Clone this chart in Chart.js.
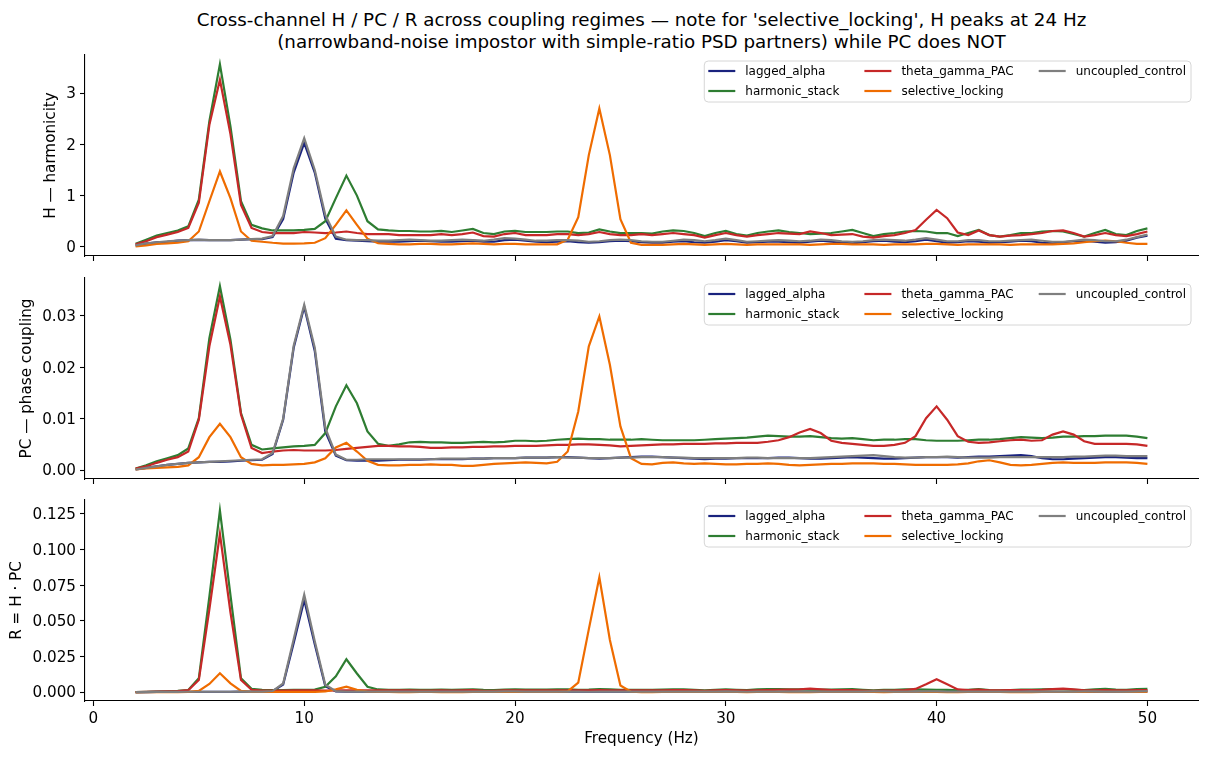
<!DOCTYPE html>
<html>
<head>
<meta charset="utf-8">
<script src="https://cdn.jsdelivr.net/npm/chart.js@4.4.1/dist/chart.umd.min.js"></script>
<style>
  body { margin: 0; background: #fff; width: 1208px; height: 759px; overflow: hidden; position: relative; font-family: "DejaVu Sans", sans-serif; }
  #title { position: absolute; left: 85px; width: 1113px; top: 9px; text-align: center; font-size: 18.3px; line-height: 22px; color: #000; }
  .panel { position: absolute; left: 0; width: 1208px; }
</style>
</head>
<body>
<div id="title">Cross-channel H / PC / R across coupling regimes — note for 'selective_locking', H peaks at 24 Hz<br>(narrowband-noise impostor with simple-ratio PSD partners) while PC does NOT</div>
<div class="panel" style="top:50px;height:236px"><canvas id="chartH"></canvas></div>
<div class="panel" style="top:272px;height:236px"><canvas id="chartPC"></canvas></div>
<div class="panel" style="top:494px;height:265px"><canvas id="chartR"></canvas></div>
<script>
// frequency grid (Hz)
const FREQS = [
  2, 2.5, 3, 3.5, 4, 4.5, 5, 5.5, 6, 6.5,
  7, 7.5, 8, 8.5, 9, 9.5, 10, 10.5, 11, 11.5,
  12, 12.5, 13, 13.5, 14, 14.5, 15, 15.5, 16, 16.5,
  17, 17.5, 18, 18.5, 19, 19.5, 20, 20.5, 21, 21.5,
  22, 22.5, 23, 23.5, 24, 24.5, 25, 25.5, 26, 26.5,
  27, 27.5, 28, 28.5, 29, 29.5, 30, 30.5, 31, 31.5,
  32, 32.5, 33, 33.5, 34, 34.5, 35, 35.5, 36, 36.5,
  37, 37.5, 38, 38.5, 39, 39.5, 40, 40.5, 41, 41.5,
  42, 42.5, 43, 43.5, 44, 44.5, 45, 45.5, 46, 46.5,
  47, 47.5, 48, 48.5, 49, 49.5, 50
];

const SERIES = ['lagged_alpha', 'harmonic_stack', 'theta_gamma_PAC', 'selective_locking', 'uncoupled_control'];
const COLORS = ['#1a237e', '#2e7d32', '#c62828', '#ef6c00', '#7f7f7f'];

const X_TICKS = [0, 10, 20, 30, 40, 50];
const H_TICKS = [0, 1, 2, 3];
const PC_TICKS = [0, 0.01, 0.02, 0.03];
const R_TICKS = [0, 0.025, 0.05, 0.075, 0.1, 0.125];

// --- H (harmonicity) ---
const H_LAGGED = [
  0.03, 0.065, 0.09, 0.10, 0.12, 0.13, 0.135, 0.13, 0.13, 0.13,
  0.14, 0.15, 0.15, 0.19, 0.54, 1.45, 2.03, 1.45, 0.55, 0.16,
  0.13, 0.12, 0.11, 0.10, 0.10, 0.10, 0.11, 0.12, 0.11, 0.10,
  0.10, 0.11, 0.12, 0.10, 0.10, 0.13, 0.14, 0.12, 0.10, 0.09,
  0.10, 0.11, 0.09, 0.08, 0.09, 0.11, 0.12, 0.11, 0.09, 0.08,
  0.08, 0.10, 0.11, 0.09, 0.08, 0.10, 0.13, 0.11, 0.08, 0.09,
  0.10, 0.10, 0.09, 0.08, 0.10, 0.12, 0.10, 0.08, 0.07, 0.09,
  0.11, 0.12, 0.10, 0.09, 0.11, 0.14, 0.11, 0.08, 0.09, 0.11,
  0.10, 0.08, 0.09, 0.10, 0.12, 0.11, 0.08, 0.07, 0.09, 0.11,
  0.12, 0.10, 0.08, 0.09, 0.12, 0.18, 0.22
];
const H_HARMONIC = [
  0.06, 0.14, 0.22, 0.27, 0.32, 0.40, 0.92, 2.45, 3.56, 2.35,
  0.89, 0.43, 0.36, 0.32, 0.32, 0.32, 0.33, 0.35, 0.50, 0.95,
  1.39, 1.00, 0.50, 0.34, 0.32, 0.31, 0.31, 0.30, 0.30, 0.31,
  0.29, 0.32, 0.35, 0.27, 0.25, 0.30, 0.31, 0.29, 0.29, 0.29,
  0.30, 0.30, 0.27, 0.28, 0.34, 0.30, 0.27, 0.27, 0.27, 0.26,
  0.30, 0.32, 0.31, 0.27, 0.21, 0.27, 0.31, 0.25, 0.22, 0.27,
  0.30, 0.32, 0.29, 0.27, 0.25, 0.26, 0.27, 0.30, 0.33, 0.27,
  0.21, 0.25, 0.27, 0.30, 0.31, 0.30, 0.27, 0.27, 0.21, 0.27,
  0.33, 0.23, 0.20, 0.23, 0.27, 0.27, 0.30, 0.31, 0.30, 0.25,
  0.20, 0.27, 0.33, 0.25, 0.23, 0.31, 0.36
];
const H_THETA = [
  0.05, 0.11, 0.19, 0.24, 0.29, 0.37, 0.86, 2.38, 3.26, 2.20,
  0.82, 0.37, 0.29, 0.27, 0.27, 0.27, 0.29, 0.28, 0.27, 0.28,
  0.30, 0.27, 0.25, 0.25, 0.25, 0.23, 0.23, 0.23, 0.23, 0.25,
  0.23, 0.25, 0.28, 0.21, 0.20, 0.25, 0.27, 0.23, 0.23, 0.23,
  0.25, 0.25, 0.23, 0.25, 0.29, 0.25, 0.23, 0.23, 0.25, 0.23,
  0.25, 0.27, 0.25, 0.23, 0.18, 0.23, 0.27, 0.23, 0.20, 0.23,
  0.25, 0.27, 0.26, 0.25, 0.30, 0.27, 0.23, 0.24, 0.25, 0.20,
  0.18, 0.21, 0.23, 0.27, 0.33, 0.53, 0.72, 0.56, 0.28, 0.23,
  0.32, 0.23, 0.20, 0.22, 0.23, 0.25, 0.27, 0.31, 0.32, 0.27,
  0.20, 0.23, 0.27, 0.23, 0.21, 0.25, 0.30
];
const H_SELECTIVE = [
  0.01, 0.03, 0.06, 0.07, 0.08, 0.11, 0.30, 0.89, 1.47, 0.95,
  0.30, 0.12, 0.10, 0.08, 0.065, 0.065, 0.07, 0.08, 0.17, 0.43,
  0.71, 0.43, 0.16, 0.07, 0.06, 0.05, 0.05, 0.06, 0.06, 0.05,
  0.05, 0.06, 0.07, 0.06, 0.05, 0.06, 0.06, 0.05, 0.05, 0.05,
  0.05, 0.14, 0.58, 1.79, 2.70, 1.79, 0.54, 0.08, 0.04, 0.04,
  0.04, 0.05, 0.06, 0.05, 0.04, 0.05, 0.06, 0.05, 0.04, 0.05,
  0.05, 0.05, 0.05, 0.05, 0.04, 0.05, 0.06, 0.06, 0.05, 0.05,
  0.05, 0.04, 0.05, 0.05, 0.05, 0.06, 0.06, 0.05, 0.04, 0.05,
  0.05, 0.05, 0.05, 0.04, 0.05, 0.05, 0.05, 0.05, 0.06, 0.07,
  0.09, 0.11, 0.12, 0.11, 0.08, 0.06, 0.06
];
const H_UNCOUPLED = [
  0.03, 0.07, 0.09, 0.11, 0.12, 0.13, 0.14, 0.13, 0.13, 0.13,
  0.14, 0.15, 0.16, 0.21, 0.60, 1.53, 2.12, 1.50, 0.62, 0.20,
  0.14, 0.13, 0.13, 0.12, 0.12, 0.13, 0.14, 0.13, 0.12, 0.12,
  0.13, 0.14, 0.13, 0.12, 0.14, 0.17, 0.16, 0.14, 0.12, 0.12,
  0.13, 0.13, 0.12, 0.10, 0.11, 0.13, 0.14, 0.13, 0.11, 0.10,
  0.10, 0.12, 0.14, 0.13, 0.11, 0.13, 0.16, 0.13, 0.10, 0.11,
  0.12, 0.13, 0.12, 0.11, 0.12, 0.14, 0.13, 0.11, 0.10, 0.11,
  0.13, 0.14, 0.13, 0.12, 0.14, 0.17, 0.14, 0.11, 0.11, 0.13,
  0.13, 0.11, 0.11, 0.12, 0.13, 0.14, 0.12, 0.10, 0.10, 0.12,
  0.14, 0.13, 0.11, 0.11, 0.14, 0.19, 0.24
];

// --- PC (phase coupling) ---
const PC_LAGGED = [
  0.0001, 0.0004, 0.0007, 0.0010, 0.0012, 0.0014, 0.0015, 0.0016, 0.0016, 0.0017,
  0.0018, 0.0019, 0.0020, 0.0031, 0.0098, 0.0238, 0.0318, 0.0232, 0.0075, 0.0028,
  0.0019, 0.0018, 0.0018, 0.0018, 0.0019, 0.0020, 0.0020, 0.0020, 0.0021, 0.0021,
  0.0021, 0.0021, 0.0022, 0.0022, 0.0023, 0.0023, 0.0023, 0.0024, 0.0024, 0.0024,
  0.0025, 0.0025, 0.0024, 0.0023, 0.0022, 0.0023, 0.0024, 0.0025, 0.0026, 0.0026,
  0.0025, 0.0024, 0.0023, 0.0022, 0.0021, 0.0022, 0.0022, 0.0023, 0.0023, 0.0023,
  0.0023, 0.0024, 0.0024, 0.0023, 0.0022, 0.0022, 0.0023, 0.0024, 0.0025, 0.0024,
  0.0023, 0.0022, 0.0022, 0.0023, 0.0024, 0.0025, 0.0025, 0.0025, 0.0024, 0.0025,
  0.0026, 0.0026, 0.0027, 0.0028, 0.0029, 0.0027, 0.0023, 0.0021, 0.0021, 0.0022,
  0.0023, 0.0024, 0.0025, 0.0025, 0.0024, 0.0023, 0.0023
];
const PC_HARMONIC = [
  0.0003, 0.0009, 0.0017, 0.0023, 0.0029, 0.0042, 0.0101, 0.0257, 0.0358, 0.0254,
  0.0111, 0.0049, 0.0040, 0.0042, 0.0044, 0.0046, 0.0047, 0.0049, 0.0072, 0.0124,
  0.0165, 0.0130, 0.0075, 0.0051, 0.0047, 0.0050, 0.0054, 0.0055, 0.0054, 0.0054,
  0.0053, 0.0053, 0.0054, 0.0055, 0.0054, 0.0055, 0.0057, 0.0057, 0.0056, 0.0057,
  0.0059, 0.0060, 0.0061, 0.0060, 0.0060, 0.0059, 0.0059, 0.0059, 0.0060, 0.0059,
  0.0058, 0.0058, 0.0058, 0.0058, 0.0059, 0.0060, 0.0061, 0.0062, 0.0063, 0.0065,
  0.0067, 0.0066, 0.0065, 0.0065, 0.0066, 0.0064, 0.0062, 0.0061, 0.0062, 0.0060,
  0.0058, 0.0059, 0.0059, 0.0060, 0.0060, 0.0058, 0.0057, 0.0057, 0.0057, 0.0058,
  0.0059, 0.0059, 0.0060, 0.0062, 0.0064, 0.0063, 0.0062, 0.0063, 0.0065, 0.0065,
  0.0066, 0.0066, 0.0067, 0.0067, 0.0067, 0.0065, 0.0062
];
const PC_THETA = [
  0.0003, 0.0007, 0.0014, 0.0020, 0.0025, 0.0036, 0.0098, 0.0241, 0.0338, 0.0244,
  0.0108, 0.0043, 0.0033, 0.0036, 0.0038, 0.0039, 0.0038, 0.0038, 0.0038, 0.0039,
  0.0041, 0.0043, 0.0045, 0.0047, 0.0047, 0.0046, 0.0046, 0.0045, 0.0043, 0.0043,
  0.0044, 0.0044, 0.0045, 0.0045, 0.0046, 0.0046, 0.0047, 0.0047, 0.0047, 0.0048,
  0.0049, 0.0049, 0.0050, 0.0050, 0.0049, 0.0048, 0.0046, 0.0047, 0.0048, 0.0049,
  0.0050, 0.0050, 0.0051, 0.0051, 0.0051, 0.0052, 0.0052, 0.0053, 0.0053, 0.0053,
  0.0055, 0.0058, 0.0064, 0.0073, 0.0080, 0.0072, 0.0057, 0.0053, 0.0051, 0.0049,
  0.0047, 0.0047, 0.0049, 0.0053, 0.0066, 0.0101, 0.0124, 0.0098, 0.0066, 0.0055,
  0.0053, 0.0054, 0.0056, 0.0058, 0.0059, 0.0057, 0.0058, 0.0069, 0.0075, 0.0069,
  0.0056, 0.0051, 0.0051, 0.0051, 0.0051, 0.0050, 0.0047
];
const PC_SELECTIVE = [
  0.0001, 0.0003, 0.0004, 0.0005, 0.0006, 0.0009, 0.0025, 0.0064, 0.0090, 0.0064,
  0.0025, 0.0012, 0.0009, 0.0010, 0.0010, 0.0011, 0.0012, 0.0015, 0.0023, 0.0044,
  0.0053, 0.0036, 0.0018, 0.0010, 0.0009, 0.0009, 0.0010, 0.0010, 0.0011, 0.0010,
  0.0010, 0.0008, 0.0008, 0.0010, 0.0012, 0.0013, 0.0014, 0.0015, 0.0014, 0.0013,
  0.0016, 0.0036, 0.0114, 0.0241, 0.0299, 0.0205, 0.0085, 0.0023, 0.0012, 0.0011,
  0.0014, 0.0015, 0.0013, 0.0012, 0.0013, 0.0012, 0.0011, 0.0011, 0.0012, 0.0012,
  0.0013, 0.0012, 0.0010, 0.0009, 0.0010, 0.0011, 0.0012, 0.0012, 0.0013, 0.0013,
  0.0013, 0.0012, 0.0012, 0.0011, 0.0010, 0.0010, 0.0010, 0.0010, 0.0011, 0.0013,
  0.0017, 0.0019, 0.0015, 0.0010, 0.0009, 0.0010, 0.0012, 0.0014, 0.0015, 0.0014,
  0.0014, 0.0014, 0.0015, 0.0015, 0.0015, 0.0014, 0.0012
];
const PC_UNCOUPLED = [
  0.0001, 0.0004, 0.0007, 0.0010, 0.0012, 0.0014, 0.0015, 0.0016, 0.0017, 0.0018,
  0.0019, 0.0020, 0.0021, 0.0033, 0.0100, 0.0242, 0.0322, 0.0238, 0.0082, 0.0030,
  0.0020, 0.0020, 0.0021, 0.0021, 0.0021, 0.0021, 0.0021, 0.0021, 0.0021, 0.0022,
  0.0022, 0.0022, 0.0022, 0.0022, 0.0023, 0.0023, 0.0023, 0.0024, 0.0024, 0.0024,
  0.0025, 0.0024, 0.0024, 0.0023, 0.0023, 0.0023, 0.0024, 0.0024, 0.0025, 0.0025,
  0.0025, 0.0024, 0.0024, 0.0023, 0.0023, 0.0023, 0.0023, 0.0023, 0.0024, 0.0024,
  0.0023, 0.0023, 0.0023, 0.0023, 0.0023, 0.0024, 0.0025, 0.0026, 0.0027, 0.0028,
  0.0029, 0.0027, 0.0025, 0.0024, 0.0024, 0.0025, 0.0025, 0.0026, 0.0025, 0.0024,
  0.0024, 0.0024, 0.0025, 0.0025, 0.0025, 0.0025, 0.0025, 0.0025, 0.0025, 0.0026,
  0.0026, 0.0027, 0.0028, 0.0028, 0.0027, 0.0027, 0.0027
];

// --- R = H * PC ---
const R_LAGGED = [
  0.0000, 0.0000, 0.0001, 0.0001, 0.0001, 0.0002, 0.0002, 0.0002, 0.0002, 0.0002,
  0.0003, 0.0003, 0.0003, 0.0006, 0.0053, 0.0345, 0.0646, 0.0336, 0.0041, 0.0004,
  0.0002, 0.0002, 0.0002, 0.0002, 0.0002, 0.0002, 0.0002, 0.0002, 0.0002, 0.0002,
  0.0002, 0.0002, 0.0003, 0.0002, 0.0002, 0.0003, 0.0003, 0.0003, 0.0002, 0.0002,
  0.0003, 0.0003, 0.0002, 0.0002, 0.0002, 0.0003, 0.0003, 0.0003, 0.0002, 0.0002,
  0.0002, 0.0002, 0.0003, 0.0002, 0.0002, 0.0002, 0.0003, 0.0003, 0.0002, 0.0002,
  0.0002, 0.0002, 0.0002, 0.0002, 0.0002, 0.0003, 0.0002, 0.0002, 0.0002, 0.0002,
  0.0003, 0.0003, 0.0002, 0.0002, 0.0003, 0.0003, 0.0003, 0.0002, 0.0002, 0.0003,
  0.0003, 0.0002, 0.0002, 0.0003, 0.0003, 0.0003, 0.0002, 0.0002, 0.0002, 0.0002,
  0.0003, 0.0002, 0.0002, 0.0002, 0.0003, 0.0004, 0.0005
];
const R_HARMONIC = [
  0.0000, 0.0001, 0.0003, 0.0005, 0.0008, 0.0014, 0.0096, 0.0670, 0.1275, 0.0680,
  0.0096, 0.0023, 0.0015, 0.0014, 0.0014, 0.0015, 0.0016, 0.0017, 0.0037, 0.0110,
  0.0230, 0.0130, 0.0037, 0.0018, 0.0015, 0.0016, 0.0017, 0.0016, 0.0016, 0.0017,
  0.0016, 0.0017, 0.0019, 0.0015, 0.0014, 0.0017, 0.0018, 0.0017, 0.0017, 0.0017,
  0.0018, 0.0018, 0.0016, 0.0017, 0.0020, 0.0018, 0.0016, 0.0016, 0.0016, 0.0016,
  0.0017, 0.0019, 0.0018, 0.0016, 0.0012, 0.0016, 0.0019, 0.0016, 0.0014, 0.0018,
  0.0020, 0.0021, 0.0019, 0.0018, 0.0017, 0.0017, 0.0017, 0.0018, 0.0020, 0.0016,
  0.0012, 0.0015, 0.0016, 0.0018, 0.0019, 0.0017, 0.0016, 0.0015, 0.0012, 0.0016,
  0.0020, 0.0014, 0.0012, 0.0014, 0.0017, 0.0017, 0.0019, 0.0020, 0.0020, 0.0016,
  0.0013, 0.0018, 0.0022, 0.0017, 0.0015, 0.0021, 0.0022
];
const R_THETA = [
  0.0000, 0.0001, 0.0003, 0.0005, 0.0007, 0.0013, 0.0084, 0.0580, 0.1110, 0.0560,
  0.0084, 0.0016, 0.0010, 0.0010, 0.0010, 0.0011, 0.0011, 0.0011, 0.0010, 0.0011,
  0.0012, 0.0012, 0.0011, 0.0012, 0.0012, 0.0011, 0.0011, 0.0010, 0.0010, 0.0011,
  0.0010, 0.0011, 0.0013, 0.0009, 0.0009, 0.0011, 0.0012, 0.0011, 0.0011, 0.0011,
  0.0012, 0.0012, 0.0011, 0.0012, 0.0014, 0.0012, 0.0011, 0.0011, 0.0012, 0.0011,
  0.0012, 0.0013, 0.0013, 0.0012, 0.0009, 0.0012, 0.0014, 0.0012, 0.0010, 0.0012,
  0.0014, 0.0016, 0.0017, 0.0018, 0.0024, 0.0019, 0.0013, 0.0013, 0.0013, 0.0010,
  0.0008, 0.0010, 0.0011, 0.0014, 0.0022, 0.0054, 0.0090, 0.0055, 0.0018, 0.0013,
  0.0017, 0.0012, 0.0011, 0.0013, 0.0014, 0.0014, 0.0016, 0.0021, 0.0024, 0.0019,
  0.0011, 0.0012, 0.0014, 0.0012, 0.0011, 0.0013, 0.0014
];
const R_SELECTIVE = [
  0.0000, 0.0000, 0.0000, 0.0000, 0.0000, 0.0001, 0.0008, 0.0057, 0.0132, 0.0061,
  0.0008, 0.0001, 0.0001, 0.0001, 0.0001, 0.0001, 0.0001, 0.0001, 0.0004, 0.0019,
  0.0037, 0.0015, 0.0003, 0.0001, 0.0001, 0.0000, 0.0000, 0.0001, 0.0001, 0.0000,
  0.0000, 0.0000, 0.0001, 0.0001, 0.0001, 0.0001, 0.0001, 0.0001, 0.0001, 0.0001,
  0.0001, 0.0005, 0.0066, 0.0440, 0.0805, 0.0365, 0.0046, 0.0002, 0.0000, 0.0000,
  0.0001, 0.0001, 0.0001, 0.0001, 0.0001, 0.0001, 0.0001, 0.0001, 0.0000, 0.0001,
  0.0001, 0.0001, 0.0000, 0.0000, 0.0000, 0.0001, 0.0001, 0.0001, 0.0001, 0.0001,
  0.0001, 0.0000, 0.0001, 0.0001, 0.0001, 0.0001, 0.0001, 0.0000, 0.0000, 0.0001,
  0.0001, 0.0001, 0.0001, 0.0000, 0.0000, 0.0000, 0.0001, 0.0001, 0.0001, 0.0001,
  0.0001, 0.0002, 0.0002, 0.0002, 0.0001, 0.0001, 0.0001
];
const R_UNCOUPLED = [
  0.0000, 0.0000, 0.0001, 0.0001, 0.0001, 0.0002, 0.0002, 0.0002, 0.0002, 0.0002,
  0.0003, 0.0003, 0.0003, 0.0007, 0.0060, 0.0370, 0.0683, 0.0357, 0.0051, 0.0006,
  0.0003, 0.0003, 0.0003, 0.0003, 0.0003, 0.0003, 0.0003, 0.0003, 0.0003, 0.0003,
  0.0003, 0.0003, 0.0003, 0.0003, 0.0003, 0.0004, 0.0004, 0.0003, 0.0003, 0.0003,
  0.0003, 0.0003, 0.0003, 0.0002, 0.0003, 0.0003, 0.0003, 0.0003, 0.0003, 0.0003,
  0.0003, 0.0003, 0.0003, 0.0003, 0.0003, 0.0003, 0.0004, 0.0003, 0.0002, 0.0003,
  0.0003, 0.0003, 0.0003, 0.0003, 0.0003, 0.0003, 0.0003, 0.0003, 0.0003, 0.0003,
  0.0004, 0.0004, 0.0003, 0.0003, 0.0003, 0.0004, 0.0004, 0.0003, 0.0003, 0.0003,
  0.0003, 0.0003, 0.0003, 0.0003, 0.0003, 0.0004, 0.0003, 0.0003, 0.0003, 0.0003,
  0.0004, 0.0004, 0.0003, 0.0003, 0.0003, 0.0005, 0.0006
];

const FONT = 'DejaVu Sans';
const TICK_FONT = { family: FONT, size: 15.2 };
const LEGEND_FONT = '12px "DejaVu Sans"';

// matplotlib-style legend: framed box, 3 columns filled column by column
const boxLegend = {
  id: 'boxLegend',
  afterDraw(chart) {
    const { ctx, chartArea } = chart;
    const ds = chart.data.datasets;
    const handle = 27, gap = 10, colGap = 25, padX = 4, rowH = 20, h = 41;
    ctx.save();
    ctx.font = LEGEND_FONT;
    const cols = [];
    for (let i = 0; i < ds.length; i += 2) cols.push(ds.slice(i, i + 2));
    const widths = cols.map(c => handle + gap + Math.max(...c.map(d => ctx.measureText(d.label).width)));
    const w = widths.reduce((a, b) => a + b, 0) + colGap * (cols.length - 1) + padX * 2 + 1;
    const x0 = chartArea.right - 7 - w;
    const y0 = chartArea.top + 6;

    const r = 4;
    ctx.beginPath();
    ctx.moveTo(x0 + r, y0);
    ctx.arcTo(x0 + w, y0, x0 + w, y0 + h, r);
    ctx.arcTo(x0 + w, y0 + h, x0, y0 + h, r);
    ctx.arcTo(x0, y0 + h, x0, y0, r);
    ctx.arcTo(x0, y0, x0 + w, y0, r);
    ctx.closePath();
    ctx.fillStyle = 'rgba(255,255,255,0.8)';
    ctx.fill();
    ctx.strokeStyle = '#d6d6d6';
    ctx.lineWidth = 1;
    ctx.stroke();

    let cx = x0 + padX;
    cols.forEach((c, ci) => {
      c.forEach((d, ri) => {
        const cy = y0 + 10 + ri * rowH;
        ctx.beginPath();
        ctx.moveTo(cx, cy);
        ctx.lineTo(cx + handle, cy);
        ctx.strokeStyle = d.borderColor;
        ctx.lineWidth = 2.2;
        ctx.stroke();
        ctx.fillStyle = '#000';
        ctx.textBaseline = 'middle';
        ctx.textAlign = 'left';
        ctx.fillText(d.label, cx + handle + gap, cy + 1);
      });
      cx += widths[ci] + colGap;
    });
    ctx.restore();
  }
};

function makePanel(canvasId, rows, cfg) {
  return new Chart(document.getElementById(canvasId), {
    type: 'line',
    data: {
      datasets: SERIES.map((name, k) => ({
        label: name,
        data: FREQS.map((f, i) => ({ x: f, y: rows[k][i] })),
        borderColor: COLORS[k],
        backgroundColor: COLORS[k],
        borderWidth: 2.2,
        pointRadius: 0,
        tension: 0,
        fill: false,
        order: SERIES.length - k
      }))
    },
    options: {
      responsive: true,
      maintainAspectRatio: false,
      animation: false,
      layout: { padding: { top: cfg.padTop, left: cfg.padLeft, right: 10, bottom: cfg.padBottom } },
      plugins: { legend: { display: false }, tooltip: { enabled: false } },
      scales: {
        x: {
          type: 'linear', bounds: 'data', min: -0.4, max: 52.4,
          afterBuildTicks: s => { s.ticks = X_TICKS.map(v => ({ value: v })); },
          ticks: { display: cfg.showX, font: TICK_FONT, color: '#000', padding: 4, maxRotation: 0, callback: v => String(v) },
          grid: { drawOnChartArea: false, drawTicks: true, tickLength: 5, tickColor: '#000', tickWidth: 1.1 },
          border: { display: true, color: '#000', width: 1.1 },
          title: { display: cfg.showX, text: 'Frequency (Hz)', font: TICK_FONT, color: '#000', padding: { top: 4, bottom: 4 } },
          afterFit: s => { s.height = cfg.xHeight; s.paddingLeft = 0; s.paddingRight = 0; }
        },
        y: {
          type: 'linear', bounds: 'data', min: cfg.yMin, max: cfg.yMax,
          afterBuildTicks: s => { s.ticks = cfg.yTicks.map(v => ({ value: v })); },
          ticks: { font: TICK_FONT, color: '#000', padding: 4, labelOffset: 1.5, callback: v => Number(v).toFixed(cfg.dec) },
          grid: { drawOnChartArea: false, drawTicks: true, tickLength: 5, tickColor: '#000', tickWidth: 1.1 },
          border: { display: true, color: '#000', width: 1.1 },
          title: { display: true, text: cfg.yTitle, font: TICK_FONT, color: '#000', padding: { top: 4, bottom: 4 } },
          afterFit: s => { s.width = 85 - cfg.padLeft; s.paddingTop = 0; s.paddingBottom = 0; }
        }
      }
    },
    plugins: [boxLegend]
  });
}

makePanel('chartH', [H_LAGGED, H_HARMONIC, H_THETA, H_SELECTIVE, H_UNCOUPLED], {
  padTop: 5, padBottom: 0, padLeft: 37.9, xHeight: 30, showX: false,
  yMin: -0.178, yMax: 3.742, yTicks: H_TICKS, dec: 0, yTitle: 'H — harmonicity'
});
makePanel('chartPC', [PC_LAGGED, PC_HARMONIC, PC_THETA, PC_SELECTIVE, PC_UNCOUPLED], {
  padTop: 6, padBottom: 0, padLeft: 13.9, xHeight: 29, showX: false,
  yMin: -0.00175, yMax: 0.0374, yTicks: PC_TICKS, dec: 2, yTitle: 'PC — phase coupling'
});
makePanel('chartR', [R_LAGGED, R_HARMONIC, R_THETA, R_SELECTIVE, R_UNCOUPLED], {
  padTop: 6, padBottom: 7, padLeft: 3.9, xHeight: 51, showX: true,
  yMin: -0.0063, yMax: 0.1348, yTicks: R_TICKS, dec: 3, yTitle: 'R = H · PC'
});
</script>
</body>
</html>
